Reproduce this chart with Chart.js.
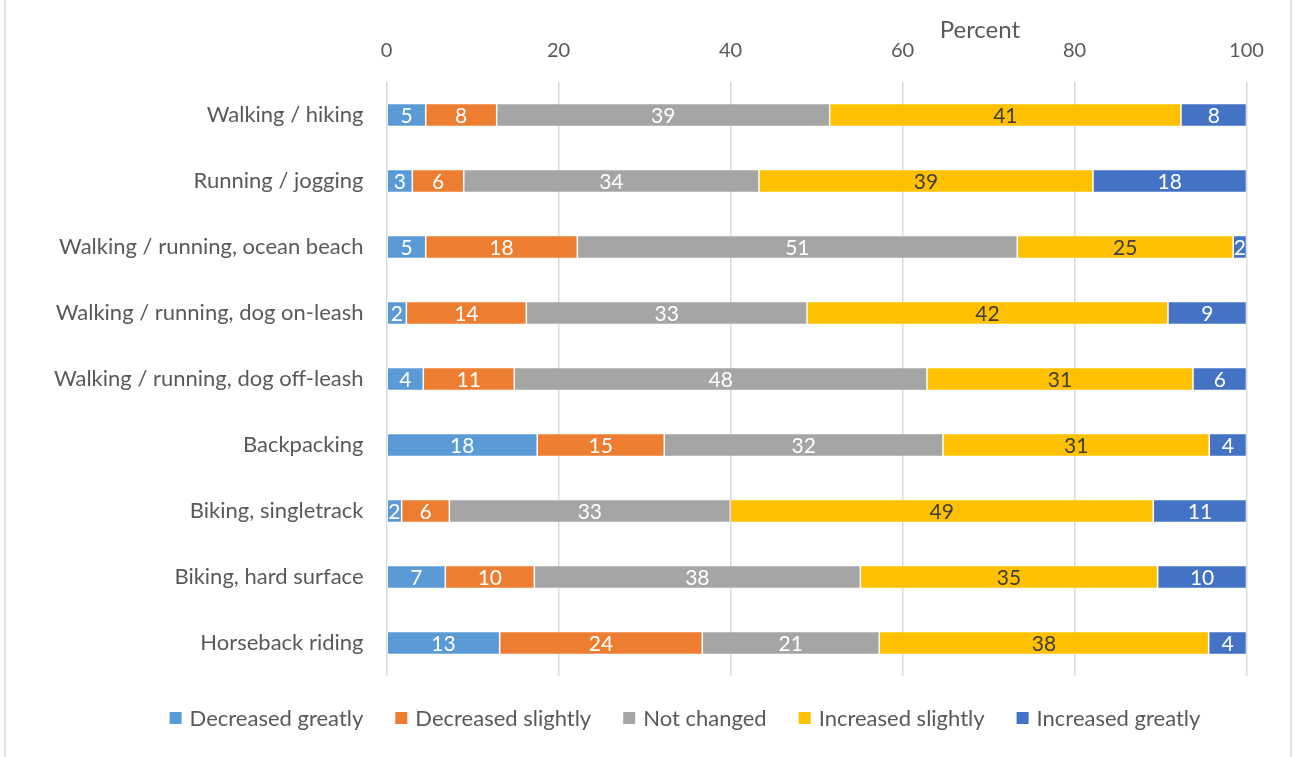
<!DOCTYPE html>
<html>
<head>
<meta charset="utf-8">
<script src="https://cdn.jsdelivr.net/npm/chart.js@4/dist/chart.umd.min.js"></script>
<style>
  html, body { margin: 0; padding: 0; background: #ffffff; }
  #wrap { position: relative; width: 1293px; height: 757px; }
</style>
</head>
<body>
<div id="wrap"><canvas id="chart" width="1293" height="757"></canvas></div>
<script>
// Datos del gráfico
const categories = [
    'Walking / hiking',
    'Running / jogging',
    'Walking / running, ocean beach',
    'Walking / running, dog on-leash',
    'Walking / running, dog off-leash',
    'Backpacking',
    'Biking, singletrack',
    'Biking, hard surface',
    'Horseback riding'
];
const seriesNames = ['Decreased greatly', 'Decreased slightly', 'Not changed', 'Increased slightly', 'Increased greatly'];
const decreasedGreatly = [4.56, 3.0, 4.56, 2.31, 4.28, 17.53, 1.76, 6.84, 13.16];
const decreasedSlightly = [8.25, 5.98, 17.63, 13.95, 10.58, 14.77, 5.55, 10.35, 23.56];
const notChanged = [38.72, 34.33, 51.16, 32.64, 47.99, 32.41, 32.67, 37.91, 20.58];
const increasedSlightly = [40.85, 38.84, 25.1, 41.97, 30.93, 30.96, 49.18, 34.57, 38.3];
const increasedGreatly = [7.62, 17.85, 1.55, 9.13, 6.22, 4.33, 10.84, 10.33, 4.4];
const xTicks = [0, 20, 40, 60, 80, 100];
const axisTitle = 'Percent';

const colors = ['#5B9BD5', '#ED7D31', '#A5A5A5', '#FFC000', '#4472C4'];
const labelColors = ['#ffffff', '#ffffff', '#ffffff', '#404040', '#ffffff'];
const FONT = 'Lato, "Open Sans", sans-serif';
const TEXT = '#595959';

const allSeries = [decreasedGreatly, decreasedSlightly, notChanged, increasedSlightly, increasedGreatly];

// Etiquetas dentro de las barras
const barLabels = {
    id: 'barLabels',
    afterDatasetsDraw(chart) {
        const ctx = chart.ctx;
        ctx.save();
        ctx.font = '21px ' + FONT;
        ctx.textAlign = 'center';
        ctx.textBaseline = 'middle';
        chart.data.datasets.forEach((ds, i) => {
            chart.getDatasetMeta(i).data.forEach((bar, j) => {
                const v = ds.data[j];
                const cx = (bar.x + bar.base) / 2;
                ctx.fillStyle = labelColors[i];
                ctx.fillText(String(Math.round(v)), cx, bar.y + 1);
            });
        });
        ctx.restore();
    }
};

// Título del eje, leyenda y marco
const extras = {
    id: 'extras',
    afterDraw(chart) {
        const ctx = chart.ctx;
        ctx.save();
        ctx.font = '24px ' + FONT;
        ctx.fillStyle = TEXT;
        ctx.textAlign = 'center';
        ctx.textBaseline = 'middle';
        ctx.fillText(axisTitle, chart.scales.x.getPixelForValue(69), 30);

        // leyenda
        ctx.font = '22px ' + FONT;
        const box = 12, gapText = 8, gapItem = 32;
        const widths = seriesNames.map(n => ctx.measureText(n).width);
        const total = widths.reduce((a, w) => a + box + gapText + w, 0) + gapItem * (seriesNames.length - 1);
        let x = 685 - total / 2;
        const y = 718;
        ctx.textAlign = 'left';
        seriesNames.forEach((n, i) => {
            ctx.fillStyle = colors[i];
            ctx.fillRect(x, y - box / 2, box, box);
            x += box + gapText;
            ctx.fillStyle = TEXT;
            ctx.fillText(n, x, y + 1);
            x += widths[i] + gapItem;
        });

        // marco
        ctx.strokeStyle = '#d9d9d9';
        ctx.lineWidth = 1.5;
        ctx.beginPath();
        ctx.moveTo(5, 0); ctx.lineTo(5, chart.height);
        ctx.moveTo(1291, 0); ctx.lineTo(1291, chart.height);
        ctx.stroke();
        ctx.restore();
    }
};

new Chart(document.getElementById('chart').getContext('2d'), {
    type: 'bar',
    data: {
        labels: categories,
        datasets: allSeries.map((data, i) => ({
            label: seriesNames[i],
            data: data,
            backgroundColor: colors[i],
            borderColor: 'rgba(255, 255, 255, 0.4)',
            borderWidth: 0.75,
            borderSkipped: false,
            categoryPercentage: 1,
            barPercentage: 0.35
        }))
    },
    options: {
        indexAxis: 'y',
        responsive: false,
        animation: false,
        layout: { padding: { left: 0, right: 46.5, top: 0, bottom: 81 } },
        plugins: {
            legend: { display: false },
            tooltip: { enabled: false }
        },
        scales: {
            x: {
                position: 'top',
                stacked: true,
                min: 0,
                max: 100,
                afterBuildTicks: scale => { scale.ticks = xTicks.map(v => ({ value: v })); },
                afterFit: scale => { scale.height = 82; },
                grid: { color: '#d9d9d9', lineWidth: 1.5, drawTicks: false },
                border: { display: false },
                ticks: { color: TEXT, font: { family: FONT, size: 20 }, padding: 19, maxRotation: 0 }
            },
            y: {
                stacked: true,
                afterFit: scale => { scale.width = 386.5; },
                grid: { display: false, drawTicks: false },
                border: { display: false },
                ticks: { color: TEXT, font: { family: FONT, size: 22 }, padding: 23 }
            }
        }
    },
    plugins: [barLabels, extras]
});
</script>
</body>
</html>
